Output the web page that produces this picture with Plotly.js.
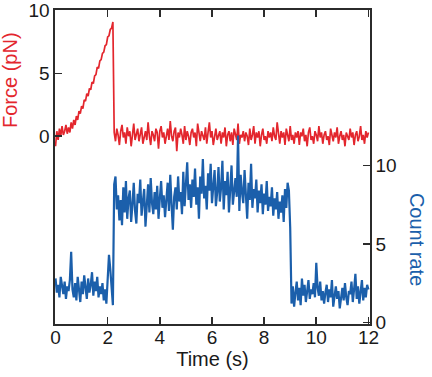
<!DOCTYPE html>
<html>
<head>
<meta charset="utf-8">
<script src="https://cdn.plot.ly/plotly-3.0.1.min.js"></script>
<style>html,body{margin:0;padding:0;background:#fff;}#chart{width:432px;height:377px;}</style>
</head>
<body>
<div id="chart"></div>
<script>
// Sampling of both traces (seconds)
const t0 = 0;
const dt = 0.05;

// Force (pN), t = 0 ... 12 s
const force = [
  -0.8, 0.4, -0.3, 0.6, 0.0, 0.8, 0.1, 0.4, 0.9, 0.2, 0.7, 0.3, 1.1, 0.6, 1.3, 0.9, 1.6, 1.3, 2.0, 1.8,
  2.4, 2.2, 2.9, 2.8, 3.4, 3.2, 3.8, 3.7, 4.3, 4.2, 4.8, 4.9, 5.5, 5.4, 6.0, 6.1, 6.6, 6.7, 7.2, 7.3,
  7.9, 8.0, 8.5, 8.6, 9.1,
  0.3, -0.4, 0.6, 0.1, -0.7, 0.4, 0.9, -0.1, 0.3, -0.6, 0.7, 0.0, 0.4, -0.8, 0.3, 1.0, -0.3, 0.1, 0.6, -0.4,
  0.3, 0.7, -0.6, 0.1, 0.4, -0.3, 1.1, 0.0, -0.7, 0.4, 0.1, -0.4, 0.6, 0.3, -1.0, 0.4, 0.8, -0.1, 0.3, -0.6,
  0.1, 0.6, -0.3, 1.2, 0.0, -0.4, 0.4, 0.7, -1.2, 0.3, -0.1, 0.6, 0.1, -0.6, 0.8, -0.3, 0.4, 0.0, -0.7, 0.3,
  0.6, -0.1, 0.3, -0.8, 1.0, 0.1, -0.4, 0.4, 0.0, -0.3, 0.7, -0.6, 0.3, 1.1, -0.1, 0.4, -0.7, 0.1, 0.6, -0.3,
  0.0, 0.4, -0.6, 0.3, -0.1, 0.7, -0.8, 0.1, 0.4, -0.4, 0.3, -0.7, 0.6, 0.0, -0.3, 1.0, -0.6, 0.1, -0.1, 0.4,
  -0.4, 0.3, 0.0, -0.7, 0.6, -0.3, 0.1, 0.8, -0.6, 0.3, -0.1, 0.4, -0.8, 0.1, 0.6, -0.3, 0.0, -0.6, 0.4, -0.1,
  0.3, -0.4, 0.7, 0.0, -0.3, 1.1, 0.1, -0.6, 0.4, -0.1, 0.3, -0.7, 0.6, 0.0, -0.4, 0.8, -0.3, 0.1, -0.6, 0.3,
  -0.1, 0.4, -0.7, 0.3, 0.0, 0.6, -0.4, 0.1, -0.8, 0.3, 0.7, -0.3, 0.0, -0.6, 0.4, 0.1, -0.4, 0.8, -0.1, 0.3,
  -0.6, 0.1, 0.4, -0.3, 0.0, -0.7, 0.6, 0.1, -0.4, 0.3, -0.1, 0.7, -0.6, 0.0, 0.4, -0.3, 0.1, -0.8, 0.3, 0.0,
  -0.3, 0.6, -0.1, 0.3, -0.7, 0.1, 0.4, -0.4, 0.0, 0.8, -0.3, 0.1, -0.6, 0.4, -0.1, 0.3
];

// Count rate, t = 0 ... 12 s
const countRate = [
  2.8, 1.9, 2.4, 1.6, 2.9, 2.2, 1.8, 2.6, 1.5, 2.3, 2.0, 2.7, 4.5, 2.1, 1.6, 2.5, 1.4, 2.9, 2.0, 1.3,
  2.6, 1.8, 3.0, 2.2, 1.5, 2.8, 1.9, 2.4, 3.2, 1.7, 2.6, 2.0, 2.9, 1.6, 2.3, 1.8, 2.5, 1.4, 2.1, 1.2,
  2.9, 4.3, 3.4, 2.0, 1.1,
  8.8, 9.3, 7.2, 8.1, 6.5, 7.8, 6.2, 8.6, 7.0, 9.0, 6.6, 7.9, 8.4, 6.4, 7.5, 8.9, 7.1, 6.3, 8.2, 7.6,
  9.1, 6.8, 7.7, 8.5, 6.1, 7.4, 8.8, 7.0, 9.2, 7.6, 6.9, 8.3, 7.2, 8.7, 6.6, 7.9, 9.0, 7.3, 8.1, 6.7,
  7.8, 8.9, 7.1, 9.4, 7.5, 5.9, 8.0, 8.6, 7.2, 9.3, 7.7, 8.3, 6.9, 9.6, 7.4, 8.5, 10.2, 7.8, 8.8, 7.3,
  9.1, 8.0, 9.8, 7.5, 8.6, 6.6, 9.3, 8.2, 10.4, 7.9, 8.7, 7.2, 9.5, 8.4, 10.1, 7.6, 8.9, 9.7, 7.4, 8.3,
  9.9, 7.7, 8.6, 10.3, 7.2, 9.0, 8.1, 9.6, 7.0, 8.8, 10.0, 7.5, 8.4, 9.2, 8.0, 11.9, 7.1, 9.4, 8.3, 7.6,
  9.7, 8.1, 6.6, 8.9, 7.8, 10.1, 7.3, 8.5, 7.9, 9.1, 7.0, 8.4, 7.6, 8.8, 6.9, 8.2, 7.5, 9.0, 7.1, 8.0,
  7.4, 8.6, 6.8, 7.9, 7.2, 8.3, 6.6, 7.7, 7.0, 8.1, 6.4, 8.5, 7.3, 8.9, 8.4,
  6.0, 1.2, 2.3, 1.0, 1.9, 2.6, 1.4, 2.2, 1.1, 2.8, 1.7, 2.4, 1.3, 2.0, 2.7, 1.5, 2.1, 1.8, 2.5, 1.6,
  3.8, 2.2, 1.7, 2.6, 1.4, 2.0, 1.2, 1.9, 2.4, 1.3, 2.1, 1.6, 2.7, 1.0, 1.8, 2.3, 1.5, 2.0, 0.9, 1.7,
  2.2, 1.4, 2.5, 1.6, 1.1, 2.0, 1.8, 2.6, 1.3, 2.1, 3.1, 1.5, 2.3, 1.2, 1.9, 2.7, 1.4, 2.2, 1.6, 2.4,
  2.1
];

const xTicks = [0, 2, 4, 6, 8, 10, 12];
const forceTicks = [0, 5, 10];
const countTicks = [0, 5, 10];

const RED = '#e3262d';
const BLUE = '#1b5fab';
const AX = '#2b2b2b';
const FONT = 'Liberation Sans, Arial, sans-serif';

const traces = [
  {x0: t0, dx: dt, y: force, type: 'scatter', mode: 'lines', yaxis: 'y',
   line: {color: RED, width: 1.7}, hoverinfo: 'skip'},
  {x0: t0, dx: dt, y: countRate, type: 'scatter', mode: 'lines', yaxis: 'y2',
   line: {color: BLUE, width: 2.2}, hoverinfo: 'skip'}
];

const common = {
  showgrid: false, zeroline: false, showline: true, linecolor: AX, linewidth: 1.6,
  ticks: 'inside', ticklen: 7, tickwidth: 1.6, tickcolor: AX,
  tickfont: {family: FONT, size: 19, color: '#1a1a1a'}
};

const layout = {
  width: 432, height: 377,
  margin: {l: 55, r: 62, t: 10, b: 53, pad: 0},
  paper_bgcolor: '#fff', plot_bgcolor: '#fff',
  showlegend: false,
  font: {family: FONT},
  xaxis: Object.assign({}, common, {
    range: [-0.02, 12.06], tickvals: xTicks, ticktext: xTicks.map(String), mirror: 'ticks',
    ticklabelstandoff: -4,
    title: {text: 'Time (s)', font: {family: FONT, size: 20, color: '#1a1a1a'}, standoff: 2}
  }),
  yaxis: Object.assign({}, common, {
    range: [-14.95, 10.05], tickvals: forceTicks, ticktext: forceTicks.map(String)
  }),
  yaxis2: Object.assign({}, common, {
    overlaying: 'y', side: 'right',
    range: [-0.1, 19.9], tickvals: countTicks, ticktext: countTicks.map(String)
  }),
  annotations: [
    {text: 'Force (pN)', xref: 'paper', yref: 'paper', x: -0.143, y: 0.777,
     xanchor: 'center', yanchor: 'middle', textangle: -90, showarrow: false,
     font: {family: FONT, size: 20, color: RED}},
    {text: 'Count rate', xref: 'paper', yref: 'paper', x: 1.149, y: 0.268,
     xanchor: 'center', yanchor: 'middle', textangle: 90, showarrow: false,
     font: {family: FONT, size: 20, color: BLUE}}
  ]
};

Plotly.newPlot('chart', traces, layout, {staticPlot: true, displayModeBar: false});
</script>
</body>
</html>
